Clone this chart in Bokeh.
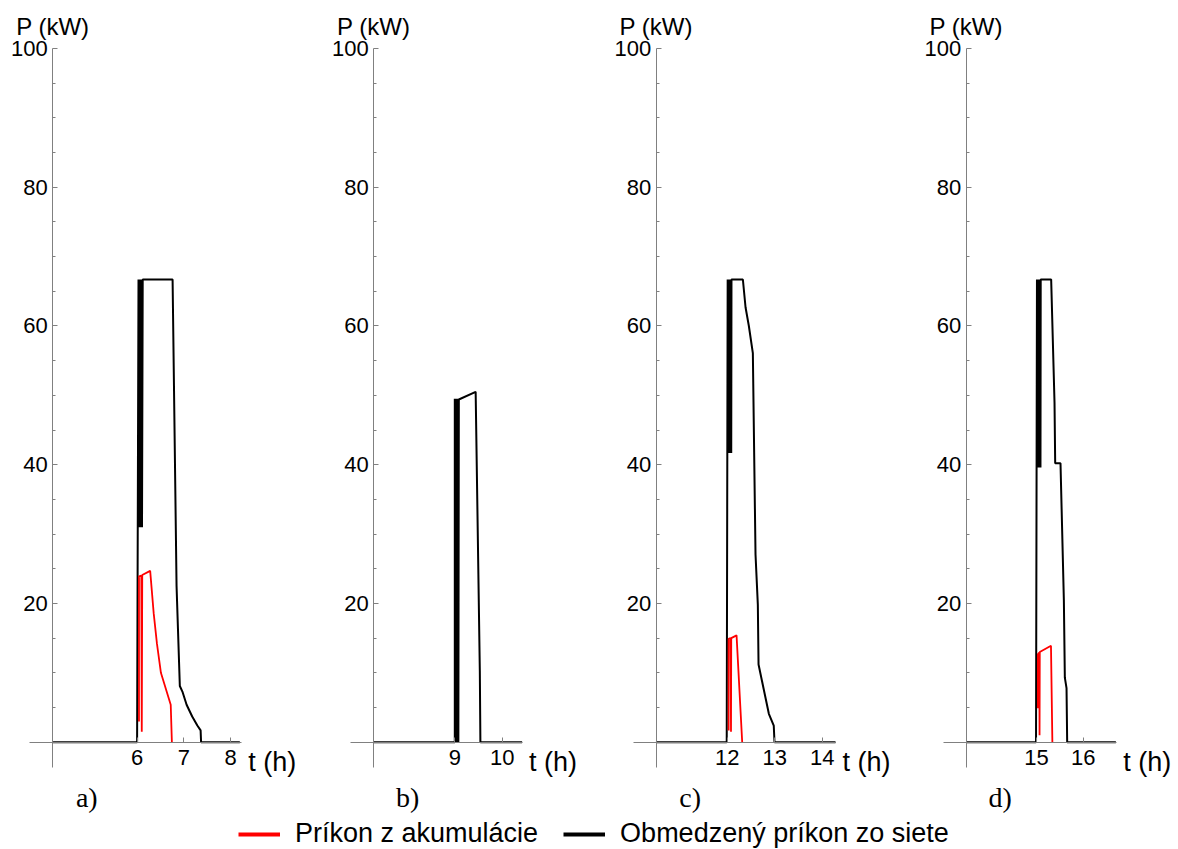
from bokeh.plotting import figure
from bokeh.models import Range1d, LinearAxis, FixedTicker, Label, Legend, LegendItem
from bokeh.embed import file_html
from bokeh.resources import INLINE

# ---------------- data ----------------
# panel a)
a_black_t = [4.2, 6.0, 6.03, 6.045, 6.06, 6.075, 6.09, 6.105, 6.12, 6.125, 6.76, 6.845, 6.915,
             6.97, 7.06, 7.18, 7.29, 7.36, 7.37, 8.2]
a_black_p = [0, 0, 66.7, 31.0, 66.7, 31.0, 66.7, 31.0, 66.7, 66.7, 66.7, 22.5, 8.1,
             7.3, 5.4, 3.7, 2.4, 1.7, 0, 0]
a_red_t = [6.04, 6.04, 6.09, 6.10, 6.11, 6.28, 6.355, 6.425, 6.51, 6.72, 6.745]
a_red_p = [3.0, 23.9, 24.0, 1.5, 24.1, 24.7, 18.6, 14.2, 10.0, 5.4, 0]

# panel b)
b_black_t = [7.29, 9.0, 9.0, 9.015, 9.03, 9.045, 9.06, 9.075, 9.085, 9.44, 9.528, 9.54, 10.42]
b_black_p = [0, 0, 49.5, 0, 49.5, 0, 49.5, 0, 49.4, 50.5, 10.3, 0, 0]

# panel c)
c_black_t = [10.5, 11.99, 12.01, 12.025, 12.04, 12.055, 12.07, 12.085, 12.09, 12.33, 12.386,
             12.456, 12.54, 12.596, 12.645, 12.66, 12.77, 12.877, 12.98, 12.996, 14.28]
c_black_p = [0, 0, 66.7, 41.7, 66.7, 41.7, 66.7, 41.7, 66.7, 66.7, 62.7,
             60.0, 56.1, 27.1, 19.8, 11.2, 7.6, 4.1, 2.4, 0, 0]
c_red_t = [12.03, 12.03, 12.07, 12.08, 12.085, 12.197, 12.316]
c_red_p = [1.7, 14.9, 15.0, 1.5, 15.0, 15.4, 0]

# panel d)
d_black_t = [13.5, 14.99, 15.01, 15.025, 15.04, 15.055, 15.07, 15.085, 15.09, 15.314, 15.386,
             15.40, 15.514, 15.586, 15.607, 15.643, 15.657, 16.7]
d_black_p = [0, 0, 66.7, 39.6, 66.7, 39.6, 66.7, 39.6, 66.7, 66.7, 48.9,
             40.2, 40.2, 20.5, 9.3, 7.8, 0, 0]
d_red_t = [15.03, 15.03, 15.06, 15.065, 15.07, 15.31, 15.34]
d_red_p = [4.9, 12.7, 12.9, 1.0, 13.0, 13.9, 0]

# tick labels
a_xticks = [6, 7, 8]
b_xticks = [9, 10]
c_xticks = [12, 13, 14]
d_xticks = [15, 16]
y_ticks = [20, 40, 60, 80, 100]
y_minor = [v for v in range(5, 100, 5) if v % 20 != 0]

panel_names = ["a)", "b)", "c)", "d)"]
legend_labels = ["Príkon z akumulácie", "Obmedzený príkon zo siete"]

# ---------------- layout ----------------
W, H = 1178, 849
GRAY = "#808080"
# (range name, ref tick, ref pixel, px per hour, y-axis origin, x-axis bounds)
layout = [
    ("a", 6.0, 136.6, 46.7, 4.195, (3.70, 8.23)),
    ("b", 9.0, 454.3, 47.4, 7.29, (6.81, 10.42)),
    ("c", 12.0, 726.7, 47.5, 10.505, (10.03, 14.28)),
    ("d", 15.0, 1036.0, 46.7, 13.495, (13.0, 16.71)),
]
series = {
    "a": (a_black_t, a_black_p, a_red_t, a_red_p, a_xticks),
    "b": (b_black_t, b_black_p, None, None, b_xticks),
    "c": (c_black_t, c_black_p, c_red_t, c_red_p, c_xticks),
    "d": (d_black_t, d_black_p, d_red_t, d_red_p, d_xticks),
}

px_per_kw = 693.7 / 100.0
y0 = -(H - 741.7) / px_per_kw
y1 = 100 + 48 / px_per_kw

p = figure(width=W, height=H, output_backend="svg", toolbar_location=None,
           x_axis_location=None, y_axis_location=None,
           x_range=Range1d(0, 1), y_range=Range1d(y0, y1),
           min_border=0, outline_line_color=None)
p.background_fill_color = "white"
p.border_fill_color = "white"
p.xgrid.visible = False
p.ygrid.visible = False

extra = {}
for name, tref, pxref, pph, yloc, bnds in layout:
    start = tref - pxref / pph
    extra[name] = Range1d(start, start + W / pph)
p.extra_x_ranges = extra

TICK_FONT = "Liberation Sans"
for i, (name, tref, pxref, pph, yloc, bnds) in enumerate(layout):
    bt, bp, rt, rp, xt = series[name]
    xa = LinearAxis(x_range_name=name, fixed_location=0, bounds=bnds,
                    ticker=FixedTicker(ticks=xt, minor_ticks=[]),
                    axis_line_color=GRAY, major_tick_line_color=GRAY,
                    major_tick_in=5, major_tick_out=0, minor_tick_line_color=None,
                    major_label_text_font=TICK_FONT, major_label_text_font_size="22px",
                    major_label_text_color="black", major_label_standoff=8)
    p.add_layout(xa, "below")
    ya = LinearAxis(x_range_name=name, fixed_location=yloc, bounds=(-3.6, 100),
                    ticker=FixedTicker(ticks=y_ticks, minor_ticks=y_minor),
                    axis_line_color=GRAY, major_tick_line_color=GRAY, minor_tick_line_color=GRAY,
                    major_tick_in=5, major_tick_out=0, minor_tick_in=3, minor_tick_out=0,
                    major_label_text_font=TICK_FONT, major_label_text_font_size="22px",
                    major_label_text_color="black", major_label_standoff=5)
    p.add_layout(ya, "left")

    p.line(bt, bp, x_range_name=name, line_color="black", line_width=2)
    if rt is not None:
        p.line(rt, rp, x_range_name=name, line_color="#ff0000", line_width=1.8)

    p.add_layout(Label(x=yloc, y=103.2, x_range_name=name, text="P (kW)",
                       text_align="center", text_baseline="middle",
                       text_font=TICK_FONT, text_font_size="24px", text_color="black"))
    p.add_layout(Label(x=bnds[1], y=-2.85, x_offset=7, x_range_name=name, text="t (h)",
                       text_align="left", text_baseline="middle",
                       text_font=TICK_FONT, text_font_size="27px", text_color="black"))
    p.add_layout(Label(x=yloc, y=-7.97, x_offset=34, x_range_name=name, text=panel_names[i],
                       text_align="center", text_baseline="middle",
                       text_font="Liberation Serif", text_font_size="28px", text_color="black"))

nan = float("nan")
r1 = p.line([nan], [nan], line_color="#ff0000", line_width=4)
r2 = p.line([nan], [nan], line_color="black", line_width=4)
legend = Legend(items=[LegendItem(label=legend_labels[0], renderers=[r1]),
                       LegendItem(label=legend_labels[1], renderers=[r2])],
                orientation="horizontal", location=(238, 0), padding=0, margin=0,
                spacing=25, glyph_width=42, glyph_height=20, label_standoff=15,
                label_text_font=TICK_FONT, label_text_font_size="27px",
                label_text_color="black",
                border_line_color=None, background_fill_alpha=0)
p.add_layout(legend, "center")

open("out.html", "w").write(file_html(p, INLINE))
